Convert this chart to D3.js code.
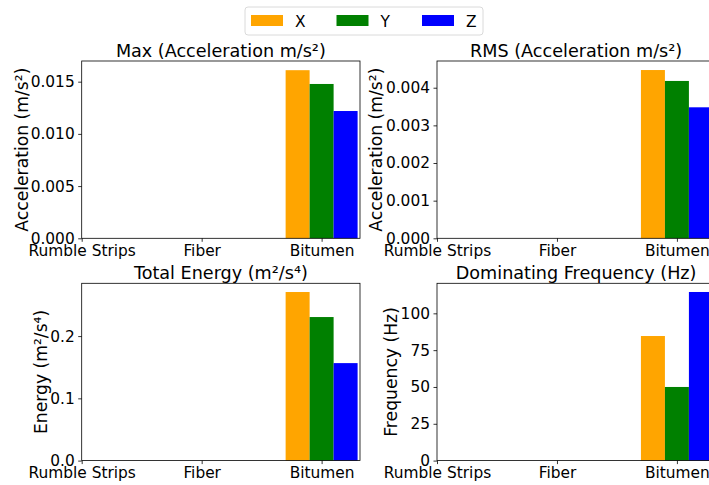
<!DOCTYPE html>
<html>
<head>
<meta charset="utf-8">
<script src="https://cdn.jsdelivr.net/npm/d3@7"></script>
<style>
  body { margin: 0; background: #fff; }
  svg { font-family: "DejaVu Sans", sans-serif; display: block; }
</style>
</head>
<body>
<div id="chart"></div>
<script>
// surfaces and the three measurement axes
const categories = ["Rumble Strips", "Fiber", "Bitumen"];
const axisNames = ["X", "Y", "Z"];
const axisColors = ["orange", "green", "blue"];

// values per axis, one entry per surface (only Bitumen has data)
const maxAccel = { X: [0, 0, 0.0161], Y: [0, 0, 0.01478], Z: [0, 0, 0.01219] };
const rmsAccel = { X: [0, 0, 0.00447], Y: [0, 0, 0.00418], Z: [0, 0, 0.00348] };
const totalEnergy = { X: [0, 0, 0.2708], Y: [0, 0, 0.2306], Z: [0, 0, 0.1566] };
const domFreq = { X: [0, 0, 84.6], Y: [0, 0, 50], Z: [0, 0, 114.5] };

const maxTicks = [0, 0.005, 0.010, 0.015];
const rmsTicks = [0, 0.001, 0.002, 0.003, 0.004];
const energyTicks = [0, 0.1, 0.2];
const freqTicks = [0, 25, 50, 75, 100];

const W = 709, H = 485;
const FS = 15.4;       // tick label size
const LFS = 17.2;      // y label size
const TFS = 17.6;      // subplot title size

const svg = d3.select("#chart").append("svg")
    .attr("width", W).attr("height", H);

const panels = [
    { title: "Max (Acceleration m/s²)", ylabel: "Acceleration (m/s²)", data: maxAccel,
      ymax: 0.01698, ticks: maxTicks, fmt: d3.format(".3f"),
      left: 81.7, top: 61, labelX: 21.5 },
    { title: "RMS (Acceleration m/s²)", ylabel: "Acceleration (m/s²)", data: rmsAccel,
      ymax: 0.00471, ticks: rmsTicks, fmt: d3.format(".3f"),
      left: 437, top: 61, labelX: 376 },
    { title: "Total Energy (m²/s⁴)", ylabel: "Energy (m²/s⁴)", data: totalEnergy,
      ymax: 0.2848, ticks: energyTicks, fmt: d3.format(".1f"),
      left: 81.7, top: 283.3, labelX: 40.5 },
    { title: "Dominating Frequency (Hz)", ylabel: "Frequency (Hz)", data: domFreq,
      ymax: 120.4, ticks: freqTicks, fmt: d3.format("d"),
      left: 437, top: 283.3, labelX: 391 }
];

const pw = 278.3, ph = 177.3;
const barW = 0.2;

panels.forEach(p => {
    const g = svg.append("g");

    const x = d3.scaleLinear().domain([0, 2.32]).range([p.left, p.left + pw]);
    const y = d3.scaleLinear().domain([0, p.ymax]).range([p.top + ph, p.top]);

    // bars (grouped, offset -0.2 / 0 / +0.2)
    axisNames.forEach((a, ai) => {
        g.selectAll(null)
            .data(p.data[a].map((v, i) => ({ i, v })))
            .enter().append("rect")
            .attr("x", d => x(d.i + (ai - 1) * barW - barW / 2))
            .attr("width", x(barW) - x(0))
            .attr("y", d => y(d.v))
            .attr("height", d => y(0) - y(d.v))
            .attr("fill", axisColors[ai]);
    });

    // y axis
    g.append("g")
        .attr("transform", `translate(${p.left},0)`)
        .call(d3.axisLeft(y).tickValues(p.ticks).tickFormat(p.fmt).tickSizeOuter(0).tickSize(3.5).tickPadding(3.5))
        .call(s => s.select(".domain").remove())
        .call(s => s.selectAll("text").attr("font-size", FS).attr("fill", "#000")
            .attr("font-family", "DejaVu Sans"))
        .call(s => s.selectAll("line").attr("stroke", "#000").attr("stroke-width", 0.8));

    // x axis
    g.append("g")
        .attr("transform", `translate(0,${p.top + ph})`)
        .call(d3.axisBottom(x).tickValues([0, 1, 2]).tickFormat(i => categories[i]).tickSizeOuter(0).tickSize(3.5).tickPadding(3))
        .call(s => s.select(".domain").remove())
        .call(s => s.selectAll("text").attr("font-size", FS).attr("fill", "#000")
            .attr("font-family", "DejaVu Sans"))
        .call(s => s.selectAll("line").attr("stroke", "#000").attr("stroke-width", 0.8));

    // frame
    g.append("rect")
        .attr("x", p.left).attr("y", p.top)
        .attr("width", pw).attr("height", ph)
        .attr("fill", "none").attr("stroke", "#000").attr("stroke-width", 0.8);

    // title
    g.append("text")
        .attr("x", p.left + pw / 2).attr("y", p.top - 4.5)
        .attr("text-anchor", "middle")
        .attr("font-size", TFS)
        .text(p.title);

    // y label
    g.append("text")
        .attr("transform", `translate(${p.labelX},${p.top + ph / 2}) rotate(-90)`)
        .attr("text-anchor", "middle")
        .attr("dominant-baseline", "central")
        .attr("font-size", LFS)
        .text(p.ylabel);
});

// legend
const leg = svg.append("g");
leg.append("rect")
    .attr("x", 245).attr("y", 7).attr("width", 238).attr("height", 28)
    .attr("rx", 3).attr("fill", "#fff").attr("fill-opacity", 0.8)
    .attr("stroke", "#d0d0d0").attr("stroke-width", 0.8);

const legX = d3.scalePoint().domain(axisNames).range([251, 422]);
axisNames.forEach((a, i) => {
    leg.append("rect")
        .attr("x", legX(a)).attr("y", 15)
        .attr("width", 32).attr("height", 11)
        .attr("fill", axisColors[i]);
    leg.append("text")
        .attr("x", legX(a) + 44).attr("y", 26.5)
        .attr("font-size", FS)
        .text(a);
});
</script>
</body>
</html>
